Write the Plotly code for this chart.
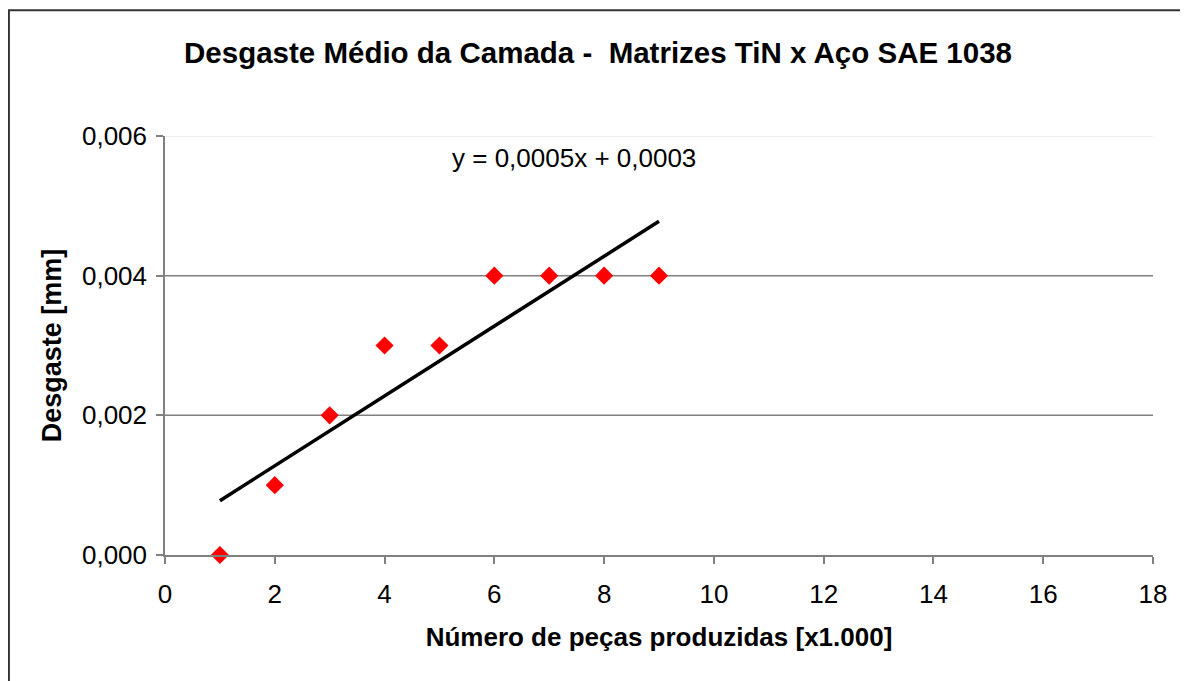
import numpy as np
import plotly.graph_objects as go

# data
pieces = [1, 2, 3, 4, 5, 6, 7, 8, 9]            # x1.000 pieces produced
wear = [0.000, 0.001, 0.002, 0.003, 0.003, 0.004, 0.004, 0.004, 0.004]  # mm
x_ticks = [0, 2, 4, 6, 8, 10, 12, 14, 16, 18]
y_ticks = [0.000, 0.002, 0.004, 0.006]

# linear trend line (Excel-style)
slope, intercept = np.polyfit(pieces, wear, 1)
trend_x = [min(pieces), max(pieces)]
trend_y = [slope * x + intercept for x in trend_x]
eq_text = f"y = {slope:.4f}x + {intercept:.4f}".replace(".", ",")

FONT = "Liberation Sans, Arial, sans-serif"

fig = go.Figure()

fig.add_trace(go.Scatter(
    x=trend_x, y=trend_y, mode="lines",
    line=dict(color="black", width=3.5),
    showlegend=False, hoverinfo="skip",
))
fig.add_trace(go.Scatter(
    x=pieces, y=wear, mode="markers",
    marker=dict(color="#ff0000", symbol="diamond", size=14),
    cliponaxis=False, showlegend=False,
))

# horizontal gridlines (top one is faint, as in the original)
for v in y_ticks[1:]:
    fig.add_shape(type="line", xref="paper", yref="y", x0=0, x1=1, y0=v, y1=v,
                  line=dict(color="#e8e8e8" if v == max(y_ticks) else "#808080", width=1.5),
                  layer="below")

# outer chart frame
fig.add_shape(type="rect", xref="paper", yref="paper",
              x0=-0.158, x1=1.2, y0=-0.5, y1=1.3,
              line=dict(color="#333333", width=2))

fig.add_annotation(x=7.45, y=0.00569, xref="x", yref="y", text=eq_text,
                   showarrow=False, font=dict(size=26, color="black", family=FONT))

# the page body adds an 8px margin, so the figure is drawn 8px smaller
fig.update_layout(
    width=1180, height=673,
    margin=dict(l=157, r=35, t=128, b=126),
    plot_bgcolor="white", paper_bgcolor="white",
    separators=",.",
    font=dict(family=FONT, color="black"),
    title=dict(text="<b>Desgaste Médio da Camada -  Matrizes TiN x Aço SAE 1038</b>",
               x=0.5, xanchor="center", y=0.934, yanchor="middle",
               font=dict(size=29.5, family=FONT)),
    xaxis=dict(
        range=[0, 18], tickvals=x_ticks, showgrid=False, zeroline=False,
        showline=True, linecolor="#808080", linewidth=1.5,
        ticks="outside", ticklen=7, tickcolor="#808080", tickwidth=1.5,
        ticklabelstandoff=8,
        tickfont=dict(size=26), title=dict(text="<b>Número de peças produzidas [x1.000]</b>",
                                           font=dict(size=26), standoff=20),
    ),
    yaxis=dict(
        range=[0, 0.006], tickvals=y_ticks, tickformat=".3f", showgrid=False,
        zeroline=False, showline=True, linecolor="#808080", linewidth=1.5,
        ticks="outside", ticklen=7, tickcolor="#808080", tickwidth=1.5,
        ticklabelstandoff=4,
        tickfont=dict(size=26), title=dict(text="<b>Desgaste [mm]</b>",
                                           font=dict(size=27), standoff=13),
    ),
)

fig.write_html("out.html")
